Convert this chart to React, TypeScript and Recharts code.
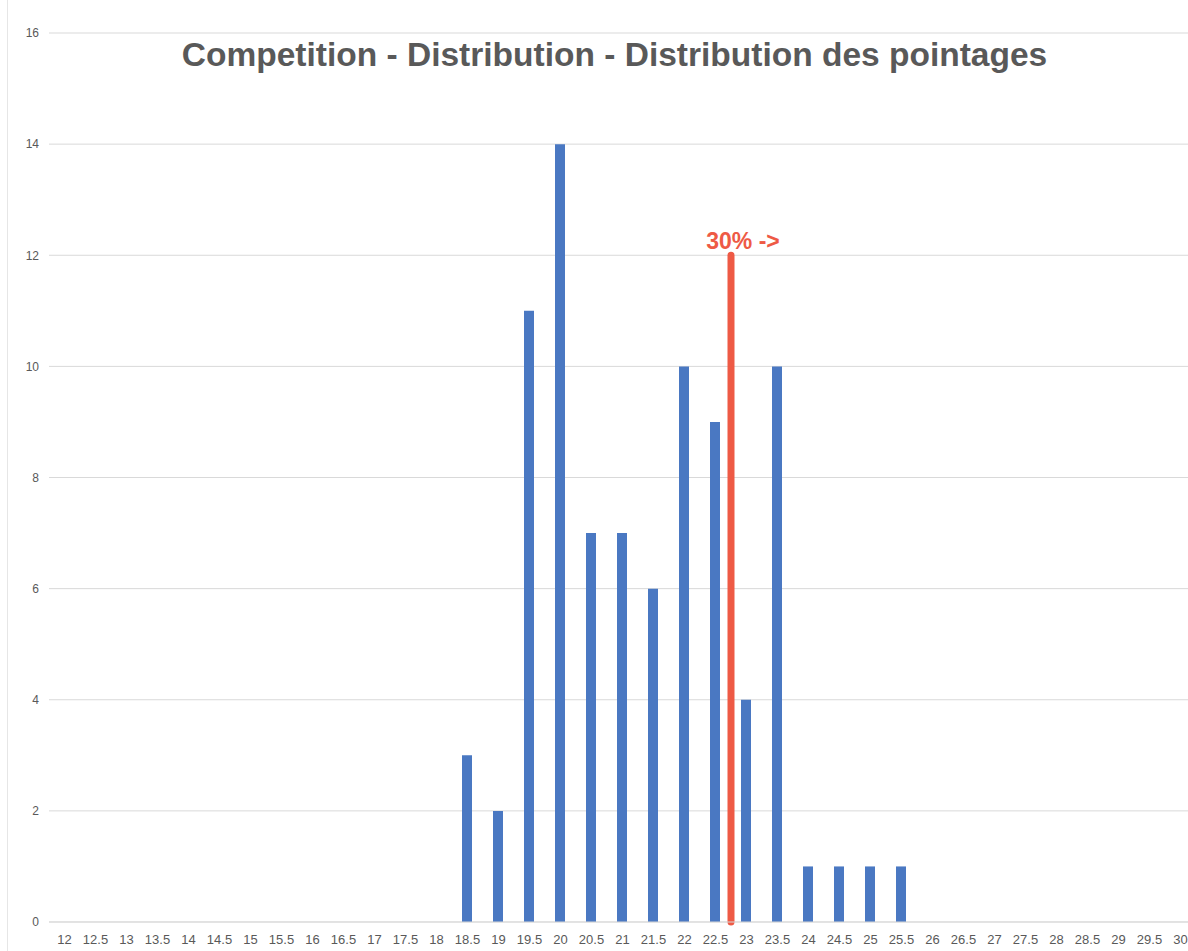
import React from 'react';
import { BarChart, Bar, XAxis, YAxis, CartesianGrid, ReferenceLine } from 'recharts';

const scores = [12, 12.5, 13, 13.5, 14, 14.5, 15, 15.5, 16, 16.5, 17, 17.5, 18, 18.5, 19, 19.5, 20, 20.5, 21, 21.5, 22, 22.5, 23, 23.5, 24, 24.5, 25, 25.5, 26, 26.5, 27, 27.5, 28, 28.5, 29, 29.5, 30];
const counts = [0, 0, 0, 0, 0, 0, 0, 0, 0, 0, 0, 0, 0, 3, 2, 11, 14, 7, 7, 6, 10, 9, 4, 10, 1, 1, 1, 1, 0, 0, 0, 0, 0, 0, 0, 0, 0];
const yTicks = [0, 2, 4, 6, 8, 10, 12, 14, 16];
const cutoffScore = 22.75;
const cutoffHeight = 12;
const cutoffLabel = '30% ->';
const title = 'Competition - Distribution - Distribution des pointages';

const data = scores.map((s, i) => ({ score: s, count: counts[i] }));

const gray = '#595959';
const font = '"Liberation Sans", Arial, sans-serif';

export default function App() {
  return (
    <div style={{ position: 'relative', width: 1188, height: 951, overflow: 'hidden', fontFamily: font, background: '#fff' }}>
      <style>{'html,body{margin:0;padding:0;overflow:hidden;}'}</style>
      <div style={{ position: 'absolute', left: 7, top: 0, width: 1, height: 951, background: '#e6e6e6' }} />
      <div style={{ position: 'absolute', left: 0, top: 0 }}>
        <BarChart
          width={1198}
          height={951}
          data={data}
          margin={{ top: 33, right: 2, bottom: 0, left: 9 }}
        >
          <CartesianGrid vertical={false} stroke="#d9d9d9" />
          <XAxis
            dataKey="score"
            type="number"
            domain={[11.75, 30.25]}
            ticks={scores}
            interval={0}
            tickLine={false}
            axisLine={{ stroke: '#d9d9d9' }}
            tick={{ fill: gray, fontSize: 13, fontFamily: font }}
            tickMargin={7}
            height={29}
            allowDecimals
          />
          <YAxis
            domain={[0, 16]}
            ticks={yTicks}
            interval={0}
            tickLine={false}
            axisLine={false}
            width={40}
            tickMargin={4}
            tick={{ fill: gray, fontSize: 12, fontFamily: font }}
          />
          <Bar dataKey="count" fill="#4a78c2" barSize={10} isAnimationActive={false} />
          <ReferenceLine
            segment={[{ x: cutoffScore, y: 0 }, { x: cutoffScore, y: cutoffHeight }]}
            stroke="#ee5a45"
            strokeWidth={7}
            strokeLinecap="round"
            label={{ value: cutoffLabel, position: 'top', fill: '#ee5a45', fontSize: 23, fontWeight: 'bold', fontFamily: font, dx: 12, offset: 6 }}
          />
        </BarChart>
      </div>
      <div style={{ position: 'absolute', left: 0, width: 1229, top: 36, textAlign: 'center', fontSize: 33.5, fontWeight: 'bold', color: gray, fontFamily: font, lineHeight: '38px' }}>
        {title}
      </div>
    </div>
  );
}
